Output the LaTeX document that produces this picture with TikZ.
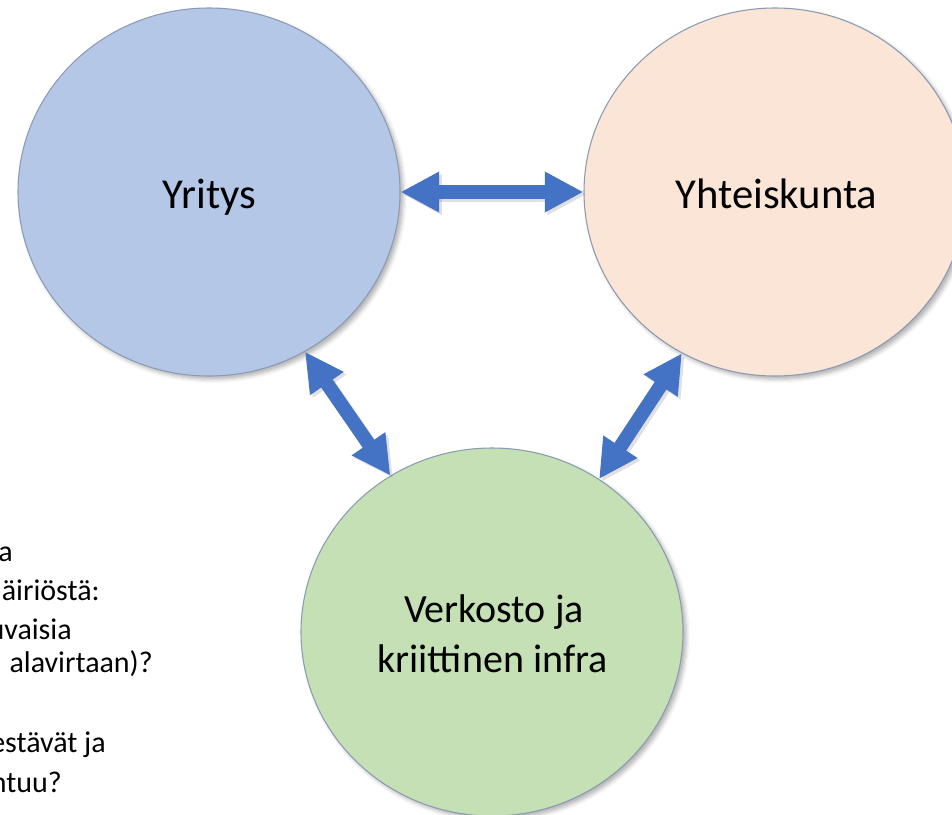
\documentclass[tikz,border=0pt]{standalone}
\usepackage{fontspec}
\setmainfont{Carlito}
\usetikzlibrary{shapes.geometric,arrows.meta,shadows.blur}
\definecolor{fillblue}{HTML}{B4C7E7}
\definecolor{fillpeach}{HTML}{FBE5D6}
\definecolor{fillgreen}{HTML}{C5E0B4}
\definecolor{edgecol}{HTML}{8A9BB3}
\definecolor{arrowblue}{HTML}{4472C4}
\begin{document}
\begin{tikzpicture}[x=0.75pt,y=-0.75pt,
  bubble/.style={ellipse, draw=edgecol, line width=0.8pt, minimum width=286.5pt,
    minimum height=276pt, inner sep=0pt,
    blur shadow={shadow xshift=2.5pt, shadow yshift=-2.5pt, shadow blur radius=3pt, shadow opacity=30}},
  biglabel/.style={anchor=base, inner sep=0pt, font=\fontsize{32}{38}\selectfont},
  greenlabel/.style={anchor=base, inner sep=0pt, font=\fontsize{30}{36}\selectfont},
  sidetext/.style={anchor=base east, inner sep=0pt, font=\fontsize{22.5}{27}\selectfont},
  tipstyle/.style={{Triangle[width=28.5pt,length=29pt]}-{Triangle[width=28.5pt,length=29pt]}},
  dblarrow/.style={draw=arrowblue, line width=10.5pt, tipstyle},
  arrowshade/.style={draw=black, opacity=0.12, line width=10.5pt, tipstyle,
    transform canvas={xshift=2pt, yshift=-2pt}}
]
\useasboundingbox (0,0) rectangle (952,814);
\clip (0,0) rectangle (952,814);

% circles
\node[bubble, fill=fillblue]  (yr) at (209,192) {};
\node[bubble, fill=fillpeach] (yh) at (775,192) {};
\node[bubble, fill=fillgreen] (ve) at (492,632) {};

% labels
\node[biglabel] (yrlab) at (209.5,208) {Yritys};
\node[biglabel] (yhlab) at (776.5,208) {Yhteiskunta};
\node[greenlabel] (velab1) at (494,622) {Verkosto ja};
\node[greenlabel] (velab2) at (492.5,672) {kriittinen infra};

% arrow shadows
\draw[arrowshade] (yr.0) -- (yh.180);
\draw[arrowshade] (yr.-59.5) -- (ve.123);
\draw[arrowshade] (yh.-120.7) -- (ve.55);

% arrows
\draw[dblarrow] (yr.0) -- (yh.180);
\draw[dblarrow] (yr.-59.5) -- (ve.123);
\draw[dblarrow] (yh.-120.7) -- (ve.55);

% cropped side text
\node[sidetext] (t1) at (13,561) {a};
\node[sidetext] (t2) at (100,600) {äiriöstä:};
\node[sidetext] (t3) at (72,639) {uvaisia};
\node[sidetext] (t4) at (153,672) {alavirtaan)?};
\node[sidetext] (t5) at (106,752) {estävät ja};
\node[sidetext] (t6) at (62,792) {ntuu?};
\end{tikzpicture}
\end{document}
